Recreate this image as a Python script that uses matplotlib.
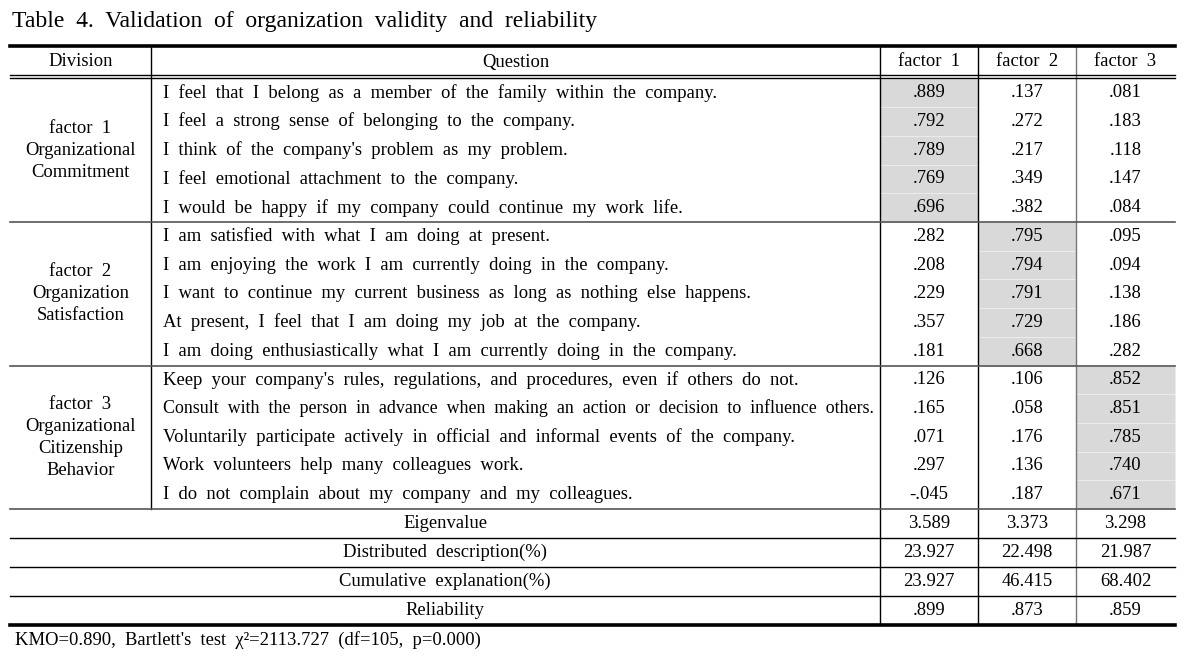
import matplotlib
matplotlib.use('Agg')
import matplotlib.pyplot as plt
from matplotlib.patches import Rectangle

plt.rcParams['font.family'] = ['Liberation Serif', 'DejaVu Serif']

title = "Table 4. Validation of organization validity and reliability"
header = ["Division", "Question", "factor 1", "factor 2", "factor 3"]
groups = ["factor 1\nOrganizational\nCommitment",
          "factor 2\nOrganization\nSatisfaction",
          "factor 3\nOrganizational\nCitizenship\nBehavior"]
questions = [
    "I feel that I belong as a member of the family within the company.",
    "I feel a strong sense of belonging to the company.",
    "I think of the company's problem as my problem.",
    "I feel emotional attachment to the company.",
    "I would be happy if my company could continue my work life.",
    "I am satisfied with what I am doing at present.",
    "I am enjoying the work I am currently doing in the company.",
    "I want to continue my current business as long as nothing else happens.",
    "At present, I feel that I am doing my job at the company.",
    "I am doing enthusiastically what I am currently doing in the company.",
    "Keep your company's rules, regulations, and procedures, even if others do not.",
    "Consult with the person in advance when making an action or decision to influence others.",
    "Voluntarily participate actively in official and informal events of the company.",
    "Work volunteers help many colleagues work.",
    "I do not complain about my company and my colleagues.",
]
factor1 = [".889", ".792", ".789", ".769", ".696", ".282", ".208", ".229", ".357", ".181",
           ".126", ".165", ".071", ".297", "-.045"]
factor2 = [".137", ".272", ".217", ".349", ".382", ".795", ".794", ".791", ".729", ".668",
           ".106", ".058", ".176", ".136", ".187"]
factor3 = [".081", ".183", ".118", ".147", ".084", ".095", ".094", ".138", ".186", ".282",
           ".852", ".851", ".785", ".740", ".671"]
summary_labels = ["Eigenvalue", "Distributed description(%)",
                  "Cumulative explanation(%)", "Reliability"]
summary_f1 = ["3.589", "23.927", "23.927", ".899"]
summary_f2 = ["3.373", "22.498", "46.415", ".873"]
summary_f3 = ["3.298", "21.987", "68.402", ".859"]
footnote = "KMO=0.890, Bartlett's test \u03c7\u00b2=2113.727 (df=105, p=0.000)"

# layout in pixel coordinates
W, H = 1195, 657
fig = plt.figure(figsize=(W / 100, H / 100), dpi=100)
ax = fig.add_axes([0, 0, 1, 1])
ax.set_xlim(0, W)
ax.set_ylim(H, 0)
ax.axis('off')
renderer = fig.canvas.get_renderer()

x_edges = [10, 151, 880, 978, 1076, 1175]
top = 46
head_bot = 76
data_top = 78.5
row_h = 28.7
fs = 13.4


def wide(s):
    # the source table is set with wide word spacing
    return s.replace(' ', '  ')


def put(x, y, s, max_w=None, **kw):
    size = kw.pop('fontsize', fs)
    t = ax.text(x, y, wide(s), fontsize=size, zorder=4, **kw)
    # squeeze lines that would run past the column
    while max_w is not None and t.get_window_extent(renderer).width > max_w:
        size -= 0.1
        t.set_fontsize(size)
    return t


def row_y(i):
    return data_top + i * row_h


# shaded loadings
for g in range(3):
    for r in range(5):
        i = g * 5 + r
        ax.add_patch(Rectangle((x_edges[2 + g], row_y(i)), x_edges[3 + g] - x_edges[2 + g], row_h,
                               facecolor='#d9d9d9', edgecolor='#ececec', lw=0.6, zorder=1))

# header
ax.plot([x_edges[0], x_edges[-1]], [top, top], color='black', lw=2.6, zorder=3)
ax.plot([x_edges[0], x_edges[-1]], [head_bot - 1, head_bot - 1], color='black', lw=1.0, zorder=3)
ax.plot([x_edges[0], x_edges[-1]], [head_bot + 2, head_bot + 2], color='black', lw=1.0, zorder=3)
for c, txt in enumerate(header):
    put((x_edges[c] + x_edges[c + 1]) / 2, (top + head_bot) / 2 + 1, txt,
        ha='center', va='center')

# data rows
cols = [factor1, factor2, factor3]
for i, q in enumerate(questions):
    yc = row_y(i) + row_h / 2
    put(x_edges[1] + 12, yc, q, max_w=x_edges[2] - x_edges[1] - 15, ha='left', va='center')
    for c in range(3):
        put((x_edges[2 + c] + x_edges[3 + c]) / 2, yc, cols[c][i], ha='center', va='center')

for g, name in enumerate(groups):
    y0 = row_y(g * 5)
    y1 = row_y(g * 5 + 5)
    put((x_edges[0] + x_edges[1]) / 2, (y0 + y1) / 2, name, ha='center', va='center',
        linespacing=1.38)
    ax.plot([x_edges[0], x_edges[-1]], [y1, y1], color='#555555', lw=1.2, zorder=3)

data_bot = row_y(15)

# summary rows
sums = [summary_f1, summary_f2, summary_f3]
sum_h = 29
for k, lab in enumerate(summary_labels):
    y0 = data_bot + k * sum_h
    y1 = y0 + sum_h
    yc = (y0 + y1) / 2
    put((x_edges[0] + x_edges[2]) / 2, yc, lab, ha='center', va='center')
    for c in range(3):
        put((x_edges[2 + c] + x_edges[3 + c]) / 2, yc, sums[c][k], ha='center', va='center')
    if k < len(summary_labels) - 1:
        ax.plot([x_edges[0], x_edges[-1]], [y1, y1], color='black', lw=1.0, zorder=3)

bottom = data_bot + len(summary_labels) * sum_h
ax.plot([x_edges[0], x_edges[-1]], [bottom, bottom], color='black', lw=2.6, zorder=3)

# vertical lines
ax.plot([x_edges[1], x_edges[1]], [top, data_bot], color='black', lw=1.0, zorder=2)
for c, x in enumerate(x_edges[2:5]):
    col = '#777777' if c == 2 else 'black'
    ax.plot([x, x], [top, bottom], color=col, lw=1.0, zorder=2)

put(12, 21, title, ha='left', va='center', fontsize=17)
put(15, 640, footnote, ha='left', va='center')

fig.savefig('out.png', dpi=100)
